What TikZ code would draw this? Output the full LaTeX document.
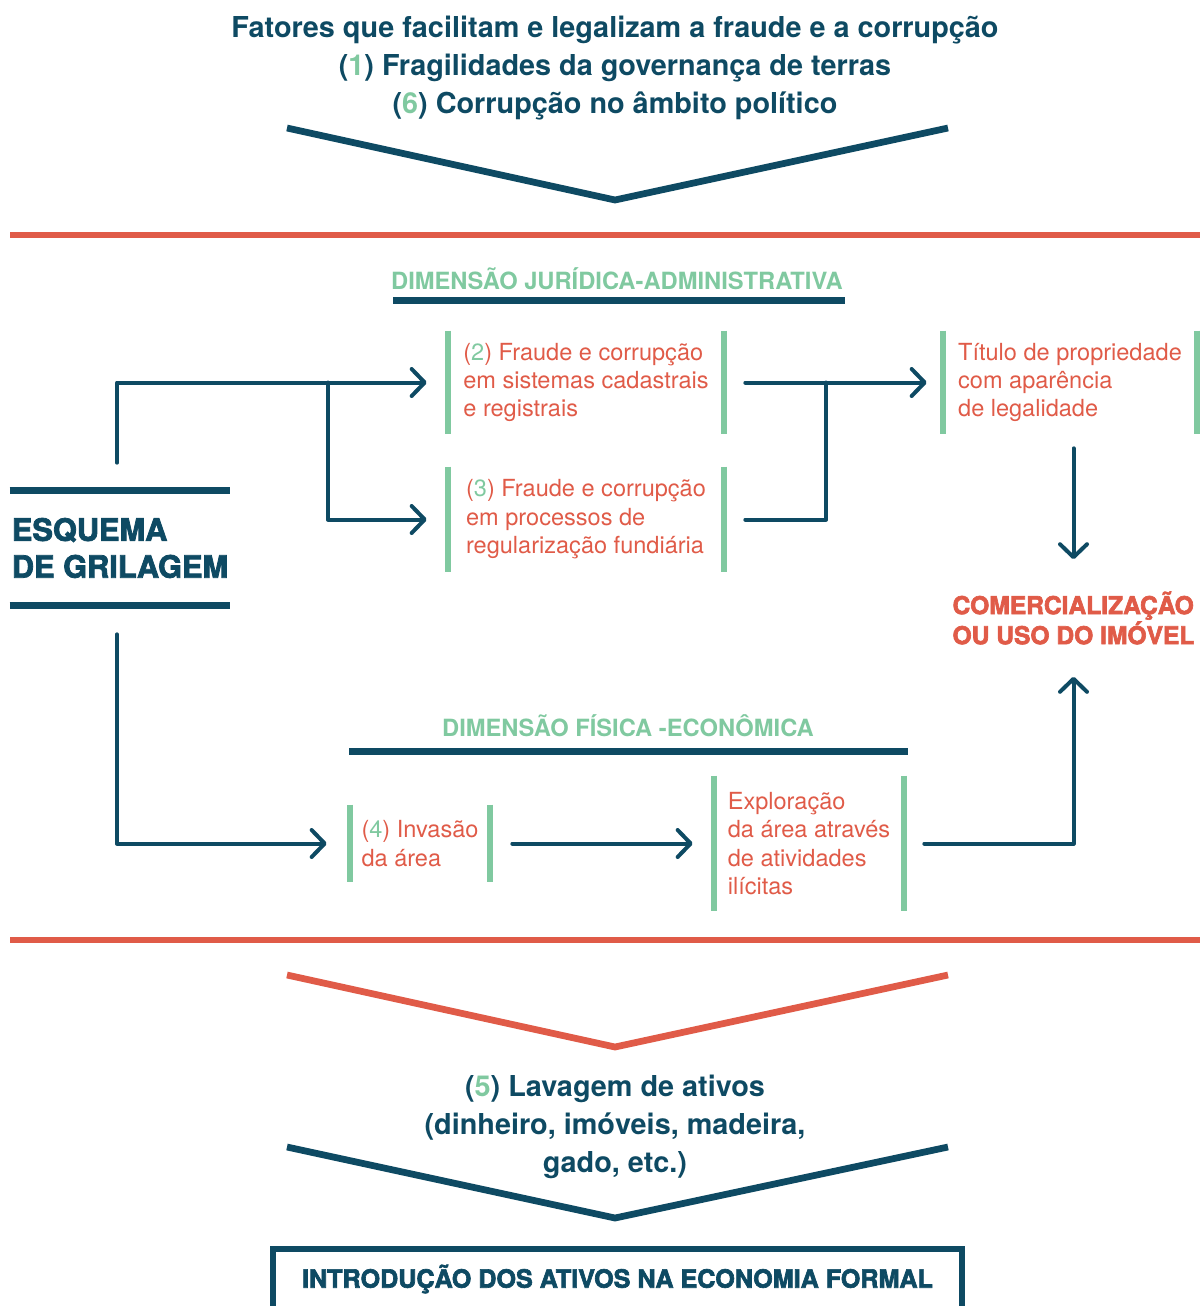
\documentclass[tikz,border=0pt]{standalone}
\usepackage{fontspec}
\setmainfont{TeX Gyre Heros}
\newfontfamily\heavyfont[FakeBold=2.6]{TeX Gyre Heros Bold}
\usetikzlibrary{arrows.meta}
\definecolor{navy}{RGB}{14,74,99}
\definecolor{coral}{RGB}{224,91,72}
\definecolor{mint}{RGB}{128,201,160}
\newcommand{\num}[1]{{\color{mint}#1}}
\tikzset{
  conn/.style={draw=navy, line width=0.08cm, line cap=round, line join=round},
  arr/.style={conn, -{Straight Barb[length=2.6mm,width=5.4mm,round]}},
  gbar/.style={draw=mint, line width=0.12cm},
  rule/.style={draw=navy, line width=0.14cm},
  sep/.style={draw=coral, line width=0.11cm},
  chev/.style={line width=0.135cm, line join=miter},
  head/.style={text=navy, align=center, inner sep=0pt, font=\bfseries\fontsize{16.4}{21.5}\selectfont},
  dim/.style={text=mint, inner sep=0pt, font=\bfseries\fontsize{13.5}{16}\selectfont},
  gbox/.style={text=coral, align=left, inner sep=0pt, font=\fontsize{13.4}{16.2}\selectfont,
    append after command={(\tikzlastnode.north west) edge[gbar] (\tikzlastnode.south west)
      (\tikzlastnode.north east) edge[gbar] (\tikzlastnode.south east)}},
  esq/.style={text=navy, align=left, inner sep=0pt, font=\heavyfont\fontsize{17.5}{21}\selectfont,
    minimum width=4.4cm, minimum height=2.28cm,
    append after command={(\tikzlastnode.north west) edge[rule] (\tikzlastnode.north east)
      (\tikzlastnode.south west) edge[rule] (\tikzlastnode.south east)}},
  heavy/.style={inner sep=0pt, font=\heavyfont\fontsize{14}{16}\selectfont}
}
\begin{document}
\begin{tikzpicture}[x=0.02cm,y=-0.02cm]
\useasboundingbox (0,0) rectangle (1200,1306);
\node[head] (fat) at (615,68) {Fatores que facilitam e legalizam a fraude e a corrupção\\(\num{1}) Fragilidades da governança de terras\\(\num{6}) Corrupção no âmbito político};
\draw[chev, navy] (287,128) -- (615,200) -- (948,128);
\draw[sep] (10,235) -- (1200,235);
\node[dim] (dja) at (617,279) {DIMENSÃO JURÍDICA-ADMINISTRATIVA};
\draw[rule] (393,300) -- (845,300);
\node[esq] (esq) at (120,548) {ESQUEMA\\DE GRILAGEM};
\node[gbox, minimum width=5.52cm, minimum height=2.06cm] (b2) at (586,382.5) {(\num{2}) Fraude e corrupção\\em sistemas cadastrais\\e registrais};
\node[gbox, minimum width=5.52cm, minimum height=2.1cm] (b3) at (586,519.5) {(\num{3}) Fraude e corrupção\\em processos de\\regularização fundiária};
\node[gbox, minimum width=5.08cm, minimum height=2.06cm] (tit) at (1070,382.5) {Título de propriedade\\com aparência\\de legalidade};
\node[heavy, text=coral, align=left] (com) at (1073.5,618) {COMERCIALIZAÇÃO\\OU USO DO IMÓVEL};
\node[dim] (dfe) at (628,726) {DIMENSÃO FÍSICA -ECONÔMICA};
\draw[rule] (349,751) -- (908,751);
\node[gbox, minimum width=2.8cm, minimum height=1.54cm] (b4) at (420,843.5) {(\num{4}) Invasão\\da área};
\node[gbox, minimum width=3.8cm, minimum height=2.7cm] (b5) at (809,843.5) {Exploração\\da área através\\de atividades\\ilícitas};
\coordinate (j1) at (328,382.5);
\coordinate (j2) at (826,382.5);
\draw[arr, shorten >=0.42cm] ([xshift=-0.06cm,yshift=0.56cm]esq.north) |- (b2.west);
\draw[arr, shorten >=0.42cm] (j1) |- (b3.west);
\draw[arr, shorten <=0.42cm, shorten >=0.32cm] (b2.east) -- (tit.west);
\draw[conn, shorten <=0.42cm] (b3.east) -| (j2);
\draw[arr, shorten <=0.28cm, shorten >=0.64cm] (tit.south -| com.north) -- (com.north);
\draw[arr, shorten >=0.46cm] ([xshift=-0.06cm,yshift=-0.58cm]esq.south) |- (b4.west);
\draw[arr, shorten <=0.44cm, shorten >=0.42cm] (b4.east) -- (b5.west);
\draw[arr, shorten <=0.4cm, shorten >=0.64cm] (b5.east) -| (com.south);
\draw[sep] (10,940) -- (1200,940);
\draw[chev, coral] (287,975) -- (615,1047) -- (948,975);
\node[head] (lav) at (615,1127) {(\num{5}) Lavagem de ativos\\(dinheiro, imóveis, madeira,\\gado, etc.)};
\draw[chev, navy] (287,1147) -- (615,1218) -- (948,1147);
\node[heavy, text=navy, draw=navy, line width=0.12cm, minimum width=13.78cm, minimum height=1.2cm, font=\heavyfont\fontsize{14.3}{16}\selectfont] (int) at (617.5,1279) {INTRODUÇÃO DOS ATIVOS NA ECONOMIA FORMAL};
\end{tikzpicture}
\end{document}
